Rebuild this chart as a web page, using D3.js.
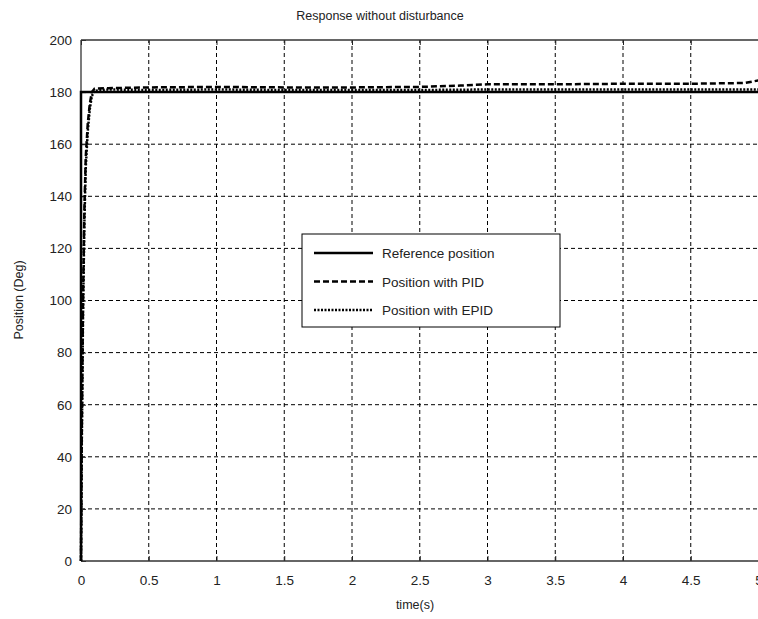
<!DOCTYPE html>
<html><head><meta charset="utf-8">
<script src="https://d3js.org/d3.v7.min.js"></script>
<style>body{margin:0;background:#fff}svg{display:block}text{font-family:"Liberation Sans",Arial,sans-serif;fill:#222}</style>
</head><body><svg id="c" width="758" height="619"></svg>
<script>
const title = "Response without disturbance";
const xLabel = "time(s)";
const yLabel = "Position (Deg)";
const xTicks = [0,0.5,1,1.5,2,2.5,3,3.5,4,4.5,5];
const yTicks = [0,20,40,60,80,100,120,140,160,180,200];
const seriesNames = ["Reference position","Position with PID","Position with EPID"];
const refT = [0, 0, 5];
const refV = [0, 180, 180];
const pidT = [0,0.005,0.015,0.025,0.035,0.05,0.065,0.08,0.1,0.2,0.5,1,1.5,2,2.5,2.8,3,3.5,4,4.5,4.9,5];
const pidV = [0,45,100,135,155,168,175.5,180,181.3,181.5,181.8,182,181.8,181.8,182,182.5,183,183,183.2,183.2,183.5,184.5];
const epidT = [0,0.005,0.015,0.025,0.035,0.05,0.065,0.08,0.1,0.2,0.5,1,1.5,2,2.5,3,3.5,4,4.5,5];
const epidV = [0,40,95,130,151,165,173.5,178.5,180.5,181,180.8,181,180.8,180.8,180.8,181,181,181,181,181];

const svg = d3.select("#c");
const L=81, R=758.5, T=40, B=561;
const x = d3.scaleLinear().domain([0,5]).range([L,R]);
const y = d3.scaleLinear().domain([0,200]).range([B,T]);

// grid
const g = svg.append("g");
g.selectAll(".vg").data(xTicks.slice(1)).join("line")
 .attr("x1",d=>x(d)).attr("x2",d=>x(d)).attr("y1",B).attr("y2",T)
 .attr("stroke","#000").attr("stroke-width",1).attr("stroke-dasharray","4,3");
g.selectAll(".hg").data(yTicks.slice(1,-1)).join("line")
 .attr("y1",d=>y(d)).attr("y2",d=>y(d)).attr("x1",L).attr("x2",R)
 .attr("stroke","#000").attr("stroke-width",1).attr("stroke-dasharray","4,3");

// axes
const xa = svg.append("g").attr("transform",`translate(0,${B})`)
 .call(d3.axisBottom(x).tickValues(xTicks).tickSize(-5).tickPadding(14).tickFormat(d3.format("")));
const ya = svg.append("g").attr("transform",`translate(${L},0)`)
 .call(d3.axisLeft(y).tickValues(yTicks).tickSize(-5).tickPadding(9));
[xa,ya].forEach(a=>{a.select(".domain").remove();a.selectAll("line").attr("stroke","#222");
 a.selectAll("text").style("font-size","13.5px").style("fill","#222").attr("font-family",null);});
svg.append("g").attr("transform",`translate(0,${T})`).call(d3.axisTop(x).tickValues(xTicks).tickSize(-5).tickFormat(""))
 .call(a=>{a.select(".domain").remove();a.selectAll("line").attr("stroke","#222");});
// border
svg.append("line").attr("x1",L).attr("x2",R).attr("y1",T).attr("y2",T).attr("stroke","#333").attr("stroke-width",1.3);
svg.append("line").attr("x1",L).attr("x2",R).attr("y1",B).attr("y2",B).attr("stroke","#333").attr("stroke-width",1.3);
svg.append("line").attr("x1",L).attr("x2",L).attr("y1",T).attr("y2",B).attr("stroke","#333").attr("stroke-width",1.3);

const line = d3.line().x(d=>x(d[0])).y(d=>y(d[1]));
const styles = [{dash:null},{dash:"6,3"},{dash:"2,1.5"}];
const data = [d3.zip(refT,refV), d3.zip(pidT,pidV), d3.zip(epidT,epidV)];
data.forEach((d,i)=>{
 svg.append("path").attr("d",line(d)).attr("fill","none").attr("stroke","#000")
  .attr("stroke-width",2.5).attr("stroke-dasharray",styles[i].dash);
});

// legend
const lg = svg.append("g");
lg.append("rect").attr("x",302).attr("y",234).attr("width",258).attr("height",93)
 .attr("fill","#fff").attr("stroke","#000").attr("stroke-width",1);
seriesNames.forEach((n,i)=>{
 const yy = 253 + i*28.5;
 lg.append("line").attr("x1",314).attr("x2",373).attr("y1",yy).attr("y2",yy)
  .attr("stroke","#000").attr("stroke-width",2.5).attr("stroke-dasharray",styles[i].dash);
 lg.append("text").attr("x",382).attr("y",yy+5).style("font-size","13.5px").text(n);
});

svg.append("text").attr("x",380).attr("y",20).attr("text-anchor","middle").style("font-size","12.5px").text(title);
svg.append("text").attr("x",415).attr("y",609).attr("text-anchor","middle").style("font-size","12.5px").text(xLabel);
svg.append("text").attr("transform","translate(23,300) rotate(-90)").attr("text-anchor","middle").style("font-size","12.5px").text(yLabel);
</script></body></html>
